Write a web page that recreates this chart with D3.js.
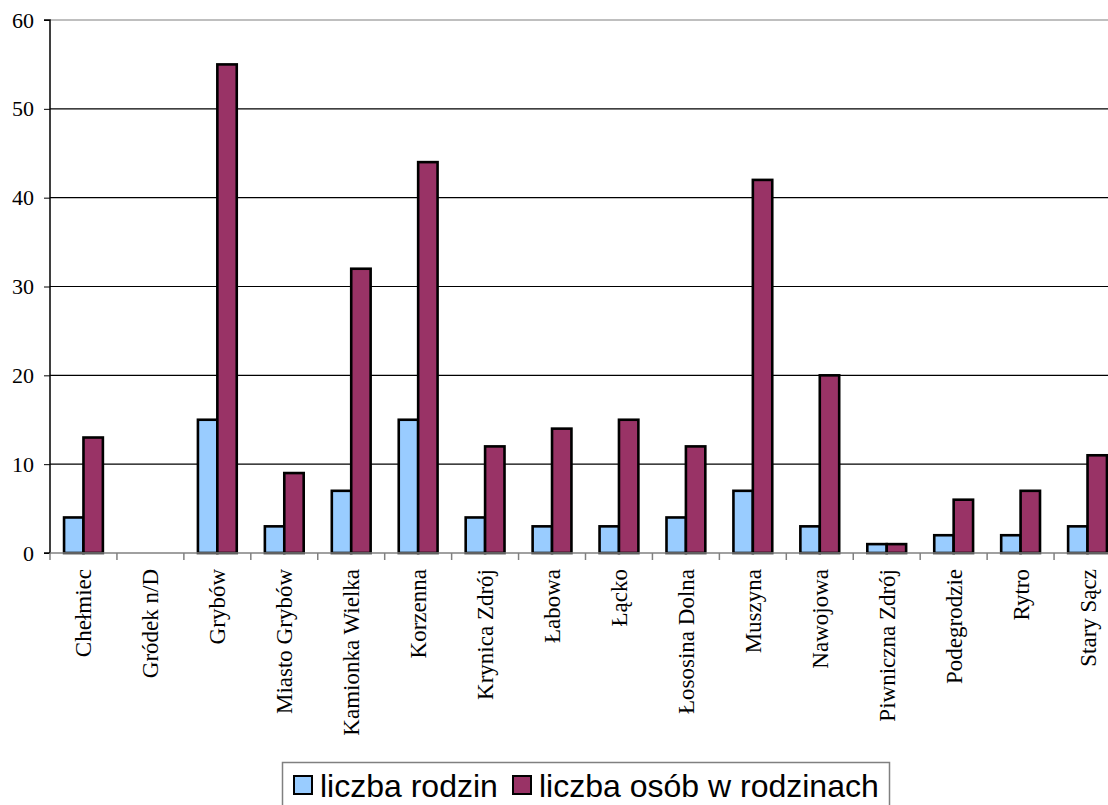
<!DOCTYPE html>
<html><head><meta charset="utf-8">
<script src="https://cdn.jsdelivr.net/npm/d3@7"></script>
<style>body{margin:0;background:#fff}svg{display:block}.serif text,text.serif{font-family:"Liberation Serif","Times New Roman",serif}</style>
</head><body>
<script>
const categories = ["Chełmiec","Gródek n/D","Grybów","Miasto Grybów","Kamionka Wielka","Korzenna","Krynica Zdrój","Łabowa","Łącko","Łososina Dolna","Muszyna","Nawojowa","Piwniczna Zdrój","Podegrodzie","Rytro","Stary Sącz"];
const rodzin = [4,0,15,3,7,15,4,3,3,4,7,3,1,2,2,3];
const osob = [13,0,55,9,32,44,12,14,15,12,42,20,1,6,7,11];
const seriesNames = ["liczba rodzin","liczba osób w rodzinach"];
const colors = ["#99CCFF","#993366"];
const yTicks = [0,10,20,30,40,50,60];

(function(){
const W=1108,H=805;
const svg=d3.select("body").append("svg").attr("width",W).attr("height",H);
const pL=50, pR=1121, pT=20, pB=553;
const x=d3.scaleBand().domain(categories).range([pL,pR]).paddingInner(0.42).paddingOuter(0.21);
const xs=d3.scaleBand().domain([0,1]).range([0,x.bandwidth()]);
const y=d3.scaleLinear().domain([0,60]).range([pB,pT]);
const step=(pR-pL)/categories.length;

// gridlines
svg.append("g").selectAll("line").data(yTicks.filter(d=>d>0)).join("line")
 .attr("x1",pL).attr("x2",pR).attr("y1",d=>y(d)).attr("y2",d=>y(d))
 .attr("stroke",d=>d===60?"#808080":"#000").attr("stroke-width",1.2);

// bars
const data=categories.map((c,i)=>({c,v:[rodzin[i],osob[i]]}));
const g=svg.append("g");
data.forEach(d=>{
  d.v.forEach((v,k)=>{
    if(v<=0) return;
    g.append("rect").attr("x",x(d.c)+xs(k)).attr("width",xs.bandwidth())
     .attr("y",y(v)).attr("height",y(0)-y(v))
     .attr("fill",colors[k]).attr("stroke","#000").attr("stroke-width",2.6);
  });
});

// y axis
const ya=svg.append("g").attr("class","serif").attr("transform",`translate(${pL},0)`)
 .call(d3.axisLeft(y).tickValues(yTicks).tickSize(6).tickPadding(10));
ya.attr("font-family",null);
ya.select(".domain").attr("stroke","#000").attr("stroke-width",1.5).attr("d",`M-6,${pT}H0V${pB}H-6`);
ya.selectAll(".tick line").attr("stroke","#000");
ya.selectAll("text").style("font-family","'Liberation Serif','Times New Roman',serif").style("font-size","22px").attr("fill","#000");

// x axis
const xa=svg.append("g");
xa.append("line").attr("x1",pL).attr("x2",pR).attr("y1",pB).attr("y2",pB).attr("stroke","#808080").attr("stroke-width",1.5);
xa.selectAll("line.t").data(d3.range(categories.length+1)).join("line").attr("class","t")
 .attr("x1",i=>pL+i*step).attr("x2",i=>pL+i*step).attr("y1",pB).attr("y2",pB+7).attr("stroke","#808080").attr("stroke-width",1.5);
xa.selectAll("text").data(categories).join("text").attr("class","serif")
 .attr("transform",d=>`translate(${x(d)+x.bandwidth()/2+8},${pB+16}) rotate(-90)`)
 .attr("text-anchor","end").style("font-size","23px").attr("fill","#000").text(d=>d);

// legend
const lg=svg.append("g");
lg.append("rect").attr("x",282.5).attr("y",762.5).attr("width",607).attr("height",60).attr("fill","#fff").attr("stroke","#808080").attr("stroke-width",1.5);
const lx=[293,512];
seriesNames.forEach((n,k)=>{
  lg.append("rect").attr("x",lx[k]+1).attr("y",776).attr("width",18).attr("height",18).attr("fill",colors[k]).attr("stroke","#000").attr("stroke-width",2);
  lg.append("text").attr("x",lx[k]+27).attr("y",797).attr("font-family","Liberation Sans, Arial, sans-serif").attr("font-size",32).attr("fill","#000").text(n);
});
})();
</script>
</body></html>
